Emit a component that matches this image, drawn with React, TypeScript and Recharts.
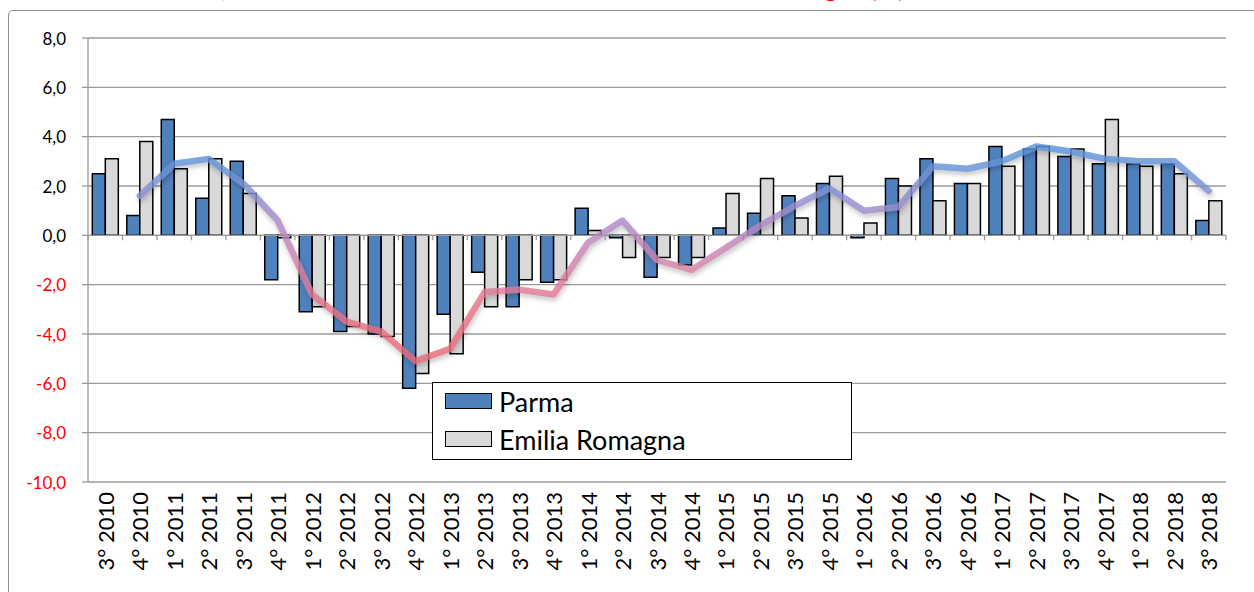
import { ComposedChart, Bar, Line, XAxis, YAxis, CartesianGrid, ReferenceLine } from 'recharts'

const quarters = [
  '3° 2010', '4° 2010',
  '1° 2011', '2° 2011', '3° 2011', '4° 2011',
  '1° 2012', '2° 2012', '3° 2012', '4° 2012',
  '1° 2013', '2° 2013', '3° 2013', '4° 2013',
  '1° 2014', '2° 2014', '3° 2014', '4° 2014',
  '1° 2015', '2° 2015', '3° 2015', '4° 2015',
  '1° 2016', '2° 2016', '3° 2016', '4° 2016',
  '1° 2017', '2° 2017', '3° 2017', '4° 2017',
  '1° 2018', '2° 2018', '3° 2018',
]

const parma = [
  2.5, 0.8,
  4.7, 1.5, 3.0, -1.8,
  -3.1, -3.9, -4.0, -6.2,
  -3.2, -1.5, -2.9, -1.9,
  1.1, -0.1, -1.7, -1.2,
  0.3, 0.9, 1.6, 2.1,
  -0.1, 2.3, 3.1, 2.1,
  3.6, 3.5, 3.2, 2.9,
  2.9, 2.9, 0.6,
]

const emilia = [
  3.1, 3.8,
  2.7, 3.1, 1.7, -0.1,
  -2.9, -3.7, -4.1, -5.6,
  -4.8, -2.9, -1.8, -1.8,
  0.2, -0.9, -0.9, -0.9,
  1.7, 2.3, 0.7, 2.4,
  0.5, 2.0, 1.4, 2.1,
  2.8, 3.6, 3.5, 4.7,
  2.8, 2.5, 1.4,
]

// trend line (Parma, smoothed)
const trend: (number | null)[] = [
  null, 1.6,
  2.9, 3.1, 2.1, 0.6,
  -2.4, -3.5, -3.9, -5.1,
  -4.6, -2.3, -2.2, -2.4,
  -0.3, 0.6, -1.0, -1.4,
  -0.5, 0.4, 1.2, 1.9,
  1.0, 1.15, 2.8, 2.7,
  3.0, 3.6, 3.4, 3.1,
  3.0, 3.0, 1.8,
]

const yTicks = [-10, -8, -6, -4, -2, 0, 2, 4, 6, 8]

const data = quarters.map((q, i) => ({ q, parma: parma[i], emilia: emilia[i], trend: trend[i] }))

const W = 1254
const H = 592
const M_TOP = 38
const Y_W = 88
const M_RIGHT = 28
const X_H = 110
const PLOT_W = W - Y_W - M_RIGHT
const PLOT_H = H - M_TOP - X_H
const Y_MIN = -10
const Y_MAX = 8
const GRID = '#9a9a9a'
const FONT = 'Lato, "Open Sans", sans-serif'

const gradStops = [
  { v: 3.6, c: '#5a93dc' },
  { v: 2.6, c: '#6c93d8' },
  { v: 1.6, c: '#8b8fd2' },
  { v: 0.6, c: '#ab8bc8' },
  { v: -0.6, c: '#c887b6' },
  { v: -1.6, c: '#da7fa0' },
  { v: -3.0, c: '#e67488' },
  { v: -5.2, c: '#ea6878' },
]

const tVals = trend.filter((v): v is number => v !== null)
const tMax = Math.max(...tVals)
const tMin = Math.min(...tVals)

function XTick(props: any) {
  const { x, y, payload, index } = props
  const step = PLOT_W / quarters.length
  const zeroY = y - PLOT_H * ((0 - Y_MIN) / (Y_MAX - Y_MIN))
  const left = x - step / 2
  return (
    <g>
      <line x1={left} x2={left} y1={zeroY} y2={zeroY + 5} stroke={GRID} strokeWidth={1.3} />
      {index === quarters.length - 1 && (
        <line x1={x + step / 2} x2={x + step / 2} y1={zeroY} y2={zeroY + 5} stroke={GRID} strokeWidth={1.3} />
      )}
      <text
        x={x}
        y={y + 10}
        transform={`rotate(-90, ${x}, ${y + 10})`}
        textAnchor="end"
        dominantBaseline="central"
        fontSize={22}
        fontFamily={FONT}
        fill="#000"
      >
        {payload.value}
      </text>
    </g>
  )
}

function YTick(props: any) {
  const { x, y, payload } = props
  const v = payload.value as number
  return (
    <text
      x={x}
      y={y}
      textAnchor="end"
      dominantBaseline="central"
      fontSize={17}
      fontFamily={FONT}
      fill={v < 0 ? '#ff0000' : '#000'}
    >
      {v.toFixed(1).replace('.', ',')}
    </text>
  )
}

const legendItems = [
  { label: 'Parma', fill: '#4f81bd' },
  { label: 'Emilia Romagna', fill: '#d9d9d9' },
]

export default function App() {
  return (
    <div style={{ position: 'fixed', left: 0, top: 0, width: W, height: H, overflow: 'hidden', background: '#fff' }}>
      <div
        style={{
          position: 'absolute', left: -4, top: -28, width: 1000, color: '#ff0000', fontFamily: FONT,
          fontWeight: 700, fontSize: 25, whiteSpace: 'nowrap', paddingLeft: 20,
        }}
      >
        Fatturato industria, tasso di variazione tendenziale Parma ed Emilia Romagna (%)
      </div>
      <div
        style={{
          position: 'absolute', left: 8, top: 10, width: 1400, height: 800,
          border: '1.5px solid #8c8c8c', borderRadius: 5, boxSizing: 'border-box',
        }}
      />
      <ComposedChart
        width={W}
        height={H}
        data={data}
        margin={{ top: M_TOP, right: M_RIGHT, left: 0, bottom: 0 }}
        barCategoryGap="12.5%"
        barGap={0}
        style={{ position: 'absolute', left: 0, top: 0 }}
      >
        <defs>
          <linearGradient id="trendGrad" x1="0" y1="0" x2="0" y2="1">
            {gradStops.map((s) => (
              <stop key={s.v} offset={Math.min(1, Math.max(0, (tMax - s.v) / (tMax - tMin)))} stopColor={s.c} />
            ))}
          </linearGradient>
          <filter id="trendShadow" x="-10%" y="-30%" width="120%" height="160%">
            <feDropShadow dx="1" dy="3" stdDeviation="2.5" floodColor="#000" floodOpacity="0.28" />
          </filter>
        </defs>
        <CartesianGrid vertical={false} stroke={GRID} strokeWidth={1.3} />
        <XAxis
          dataKey="q"
          height={X_H}
          interval={0}
          axisLine={false}
          tickLine={false}
          tickSize={0}
          tickMargin={0}
          tick={<XTick />}
        />
        <YAxis
          width={Y_W}
          domain={[Y_MIN, Y_MAX]}
          ticks={yTicks}
          interval={0}
          allowDataOverflow
          axisLine={{ stroke: GRID, strokeWidth: 1.3 }}
          tickLine={{ stroke: GRID, strokeWidth: 1.3 }}
          tickSize={6}
          tickMargin={16}
          tick={<YTick />}
        />
        <ReferenceLine y={0} stroke={GRID} strokeWidth={1.3} />
        <Bar dataKey="parma" fill="#4f81bd" stroke="#000" strokeWidth={1.5} isAnimationActive={false} />
        <Bar dataKey="emilia" fill="#d9d9d9" stroke="#000" strokeWidth={1.5} isAnimationActive={false} />
        <Line
          dataKey="trend"
          type="linear"
          stroke="url(#trendGrad)"
          strokeWidth={6.5}
          strokeOpacity={0.8}
          strokeLinejoin="round"
          strokeLinecap="round"
          filter="url(#trendShadow)"
          dot={false}
          activeDot={false}
          connectNulls={false}
          isAnimationActive={false}
        />
      </ComposedChart>
      <div
        style={{
          position: 'absolute', left: 432, top: 382, width: 420, height: 78, boxSizing: 'border-box',
          border: '1.3px solid #000', background: '#fff', fontFamily: FONT, fontSize: 27, color: '#000',
          paddingTop: 3, paddingLeft: 12,
        }}
      >
        {legendItems.map((it) => (
          <div key={it.label} style={{ display: 'flex', alignItems: 'center', height: 30, marginBottom: 8 }}>
            <span
              style={{
                width: 47, height: 16, background: it.fill, border: '1.5px solid #000',
                boxSizing: 'border-box', marginRight: 7, display: 'inline-block',
              }}
            />
            <span>{it.label}</span>
          </div>
        ))}
      </div>
    </div>
  )
}
